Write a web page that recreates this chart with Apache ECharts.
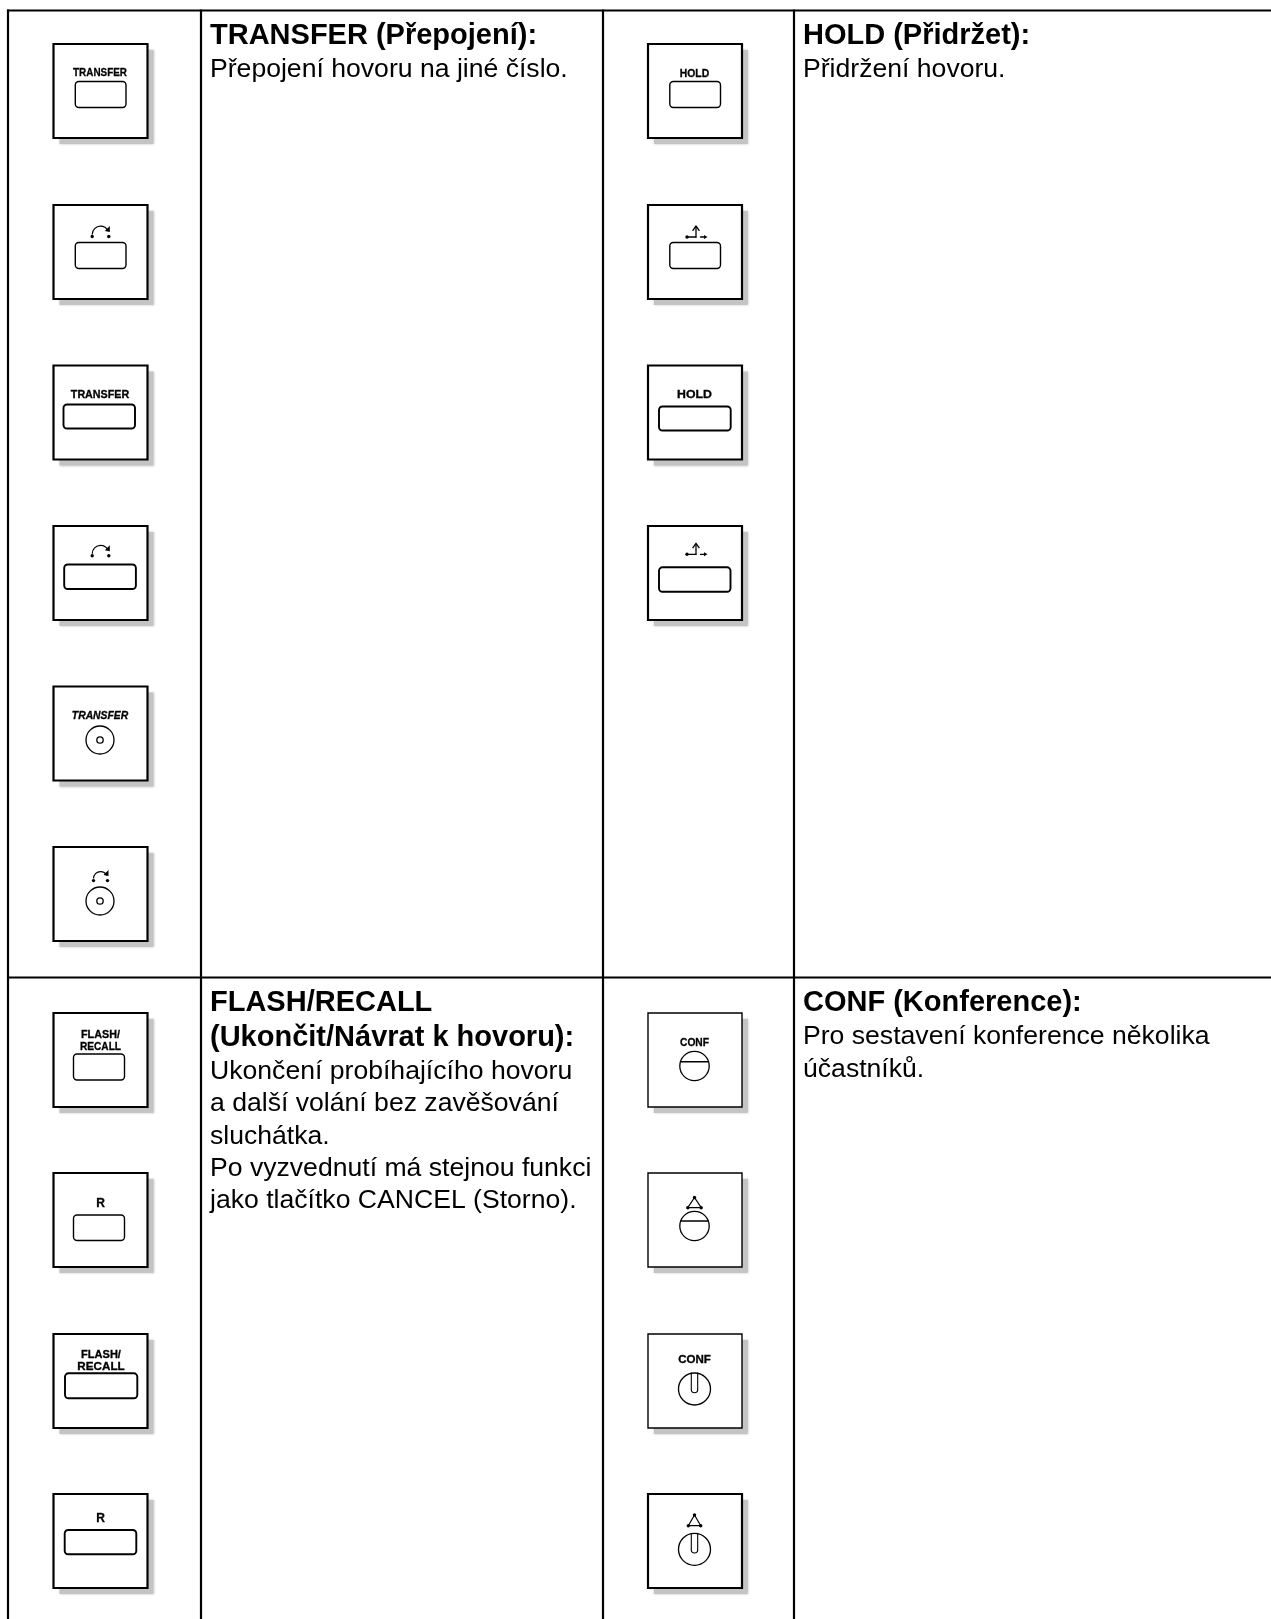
<!DOCTYPE html>
<html><head><meta charset="utf-8">
<style>html,body{margin:0;padding:0;background:#fff}#c{width:1271px;height:1619px}</style>
<script src="https://cdn.jsdelivr.net/npm/echarts@6/dist/echarts.min.js"></script>
</head><body><div id="c"></div>
<script>
// ---- content ----
const headingTransfer = ['TRANSFER (Přepojení):'];
const bodyTransfer = ['Přepojení hovoru na jiné číslo.'];
const headingHold = ['HOLD (Přidržet):'];
const bodyHold = ['Přidržení hovoru.'];
const headingFlash = ['FLASH/RECALL', '(Ukončit/Návrat k hovoru):'];
const bodyFlash = ['Ukončení probíhajícího hovoru', 'a další volání bez zavěšování', 'sluchátka.', 'Po vyzvednutí má stejnou funkci', 'jako tlačítko CANCEL (Storno).'];
const headingConf = ['CONF (Konference):'];
const bodyConf = ['Pro sestavení konference několika', 'účastníků.'];
const keysTransfer = ['narrow-label', 'narrow-arc', 'wide-label', 'wide-arc', 'round-label', 'round-arc'];
const keysHold = ['narrow-label', 'narrow-fork', 'wide-label', 'wide-fork'];
const keysFlash = ['flash-narrow', 'r-narrow', 'flash-wide', 'r-wide'];
const keysConf = ['chord-label', 'chord-tri', 'slot-label', 'slot-tri'];
// ---- layout ----
const FONT = '"Liberation Sans", Arial, sans-serif';
const colLines = [8, 201, 603, 794];
const rowLines = [10.5, 977.5];
const W = 1271, H = 1619;
const topsUpper = [44, 205, 365.5, 526, 686.5, 847];
const topsLower = [1013, 1173, 1334, 1494];
const g = [];
const line = (x1, y1, x2, y2, w) => g.push({type:'line', z:5, shape:{x1,y1,x2,y2}, style:{stroke:'#000', lineWidth:w||1.2, lineCap:'round', lineJoin:'round'}});
const poly = (pts, w) => g.push({type:'polyline', z:5, shape:{points:pts}, style:{stroke:'#000', fill:null, lineWidth:w||1.2, lineJoin:'round'}});
const dot = (cx, cy, r) => g.push({type:'circle', z:5, shape:{cx,cy,r:r||1.6}, style:{fill:'#000'}});
const tri = (pts) => g.push({type:'polygon', z:5, shape:{points:pts}, style:{fill:'#000'}});
const label = (txt, cx, cy, size, sx, italic) => g.push({type:'text', z:6, x:cx, y:cy, scaleX:sx||1,
  style:{text:txt, x:0, y:0, fill:'#000', stroke:'#000', lineWidth:0.3, align:'center', verticalAlign:'middle', font:`${italic?'italic ':''}bold ${size}px ${FONT}`}});
const key = (x, y, w, h, lw) => g.push({type:'rect', z:5, shape:{x,y,width:w,height:h,r:3.5}, style:{fill:'#fff', stroke:'#000', lineWidth:lw||1.4}});
const ring = (cx, cy, r, w) => g.push({type:'circle', z:5, shape:{cx,cy,r}, style:{fill:'#fff', stroke:'#000', lineWidth:w||1.3}});

function arcIcon(x, y, halfW, dotY, peakY) {
  const cx = x + 47, r = dotY - peakY - 2, cy = peakY + r;
  dot(cx - halfW, y + dotY, 1.7); dot(cx + halfW, y + dotY, 1.7);
  g.push({type:'arc', z:5, shape:{cx, cy:y+cy, r:halfW, startAngle:Math.PI, endAngle:Math.PI*1.85, clockwise:true},
    style:{stroke:'#000', fill:null, lineWidth:1.2}});
  tri([[cx+halfW+1, y+dotY-10.5],[cx+halfW+1, y+dotY-4.5],[cx+halfW-4, y+dotY-5.5]]);
}
function forkIcon(x, y) {
  dot(x+39, y+32, 1.7);
  line(x+39, y+32, x+48, y+32, 1.3);
  line(x+48, y+32, x+48, y+22, 1.3);
  poly([[x+44.6, y+25.8],[x+48, y+21],[x+51.4, y+25.8]], 1.3);
  line(x+52.5, y+32, x+57, y+32, 1.3);
  tri([[x+59.5,y+32],[x+56,y+30],[x+56,y+34]]);
}
function triIcon(x, y, ay, by, hw) {
  const cx = x + 46.5;
  poly([[cx,y+ay],[cx-hw,y+by],[cx+hw,y+by],[cx,y+ay]], 1.2);
  dot(cx,y+ay,1.7); dot(cx-hw,y+by,1.7); dot(cx+hw,y+by,1.7);
}
function chordCircle(x, y, cy, chord) {
  const cx = x + 46.5, r = 14.7;
  ring(cx, y+cy, r);
  const dy = chord - cy, hw = Math.sqrt(r*r - dy*dy);
  line(cx-hw, y+chord, cx+hw, y+chord, 1.4);
}
function slotCircle(x, y, cy) {
  const cx = x + 46.5, r = 16;
  ring(cx, y+cy, r);
  const t = y + cy - r, sw = 3.2, e = y + cy + 0.5;
  line(cx-sw, t, cx-sw, e, 1.1);
  line(cx+sw, t, cx+sw, e, 1.1);
  g.push({type:'arc', z:5, shape:{cx, cy:e, r:sw, startAngle:0, endAngle:Math.PI, clockwise:true}, style:{stroke:'#000', fill:null, lineWidth:1.1}});
}
function box(x, y, thin) {
  g.push({type:'rect', z:2, shape:{x:x+6,y:y+6,width:94,height:94}, style:{fill:'#c4c4c4', shadowBlur:2.5, shadowColor:'#c4c4c4'}});
  g.push({type:'rect', z:3, shape:{x,y,width:94,height:94}, style:{fill:'#fff', stroke:'#000', lineWidth:thin?1.4:2.2}});
}
const painters = {
  'narrow-label': (x,y,t)=>{ key(x+21.8,y+37.5,50.7,26); if(t==='T') label('TRANSFER',x+46.5,y+29,11.5,0.86); else label('HOLD',x+46.5,y+29.5,11,0.94); },
  'narrow-arc': (x,y)=>{ key(x+21.8,y+37.5,50.7,26); arcIcon(x,y,8.3,31.5,22); },
  'narrow-fork': (x,y)=>{ key(x+21.8,y+37.5,50.7,26); forkIcon(x,y); },
  'wide-label': (x,y,t)=>{ if(t==='T'){ key(x+10,y+39,71.5,24,1.9); label('TRANSFER',x+46.5,y+29.5,10.5,1.02); } else { key(x+11,y+41,71.7,24,1.9); label('HOLD',x+46.5,y+30,10.5,1.17); } },
  'wide-arc': (x,y)=>{ key(x+10.7,y+38.5,71.7,24.5,1.9); arcIcon(x,y,8.3,29.7,20); },
  'wide-fork': (x,y)=>{ key(x+11,y+41.3,71.5,24.5,1.9); forkIcon(x,y-3.7); },
  'round-label': (x,y)=>{ ring(x+46.5,y+53.5,14); ring(x+46.5,y+53.5,3.2); label('TRANSFER',x+46.5,y+29.5,11,0.94,true); },
  'round-arc': (x,y)=>{ ring(x+46.5,y+54,14); ring(x+46.5,y+54,3.2); arcIcon(x,y,7,33.6,26); },
  'flash-narrow': (x,y)=>{ key(x+20,y+41,51,26); label('FLASH/',x+47,y+21.5,11,0.98); label('RECALL',x+47,y+33.5,11,0.92); },
  'r-narrow': (x,y)=>{ key(x+20,y+42,51,25.5); label('R',x+47,y+31,12); },
  'flash-wide': (x,y)=>{ key(x+11.5,y+39.3,72.3,25,1.9); label('FLASH/',x+47.5,y+21,10.5,1.05); label('RECALL',x+47.5,y+32.7,10.5,1.11); },
  'r-wide': (x,y)=>{ key(x+11.2,y+36,71.6,24.3,1.9); label('R',x+47,y+24.5,12); },
  'chord-label': (x,y)=>{ chordCircle(x,y,53,48.7); label('CONF',x+46.5,y+30,11,0.93); },
  'chord-tri': (x,y)=>{ chordCircle(x,y,53,48); triIcon(x,y,24.5,34.7,6.7); },
  'slot-label': (x,y)=>{ slotCircle(x,y,55); label('CONF',x+46.5,y+26,10.5,1.1); },
  'slot-tri': (x,y)=>{ slotCircle(x,y,55.3); triIcon(x,y,21,31.7,6.2); }
};
function columnKeys(x, list, tops, tag, thinFn) {
  list.forEach((k, i) => { const y = tops[i]; box(x, y, thinFn && thinFn(i)); painters[k](x, y, tag); });
}
columnKeys(53.5, keysTransfer, topsUpper, 'T');
columnKeys(648, keysHold, topsUpper, 'H');
columnKeys(53.5, keysFlash, topsLower, 'F');
columnKeys(648, keysConf, topsLower, 'C', i => i < 3);

// grid
colLines.forEach(x => g.push({type:'line', z:8, shape:{x1:x,y1:rowLines[0]-1,x2:x,y2:H}, style:{stroke:'#000', lineWidth:2.2}}));
rowLines.forEach(y => g.push({type:'line', z:8, shape:{x1:colLines[0]-1,y1:y,x2:W,y2:y}, style:{stroke:'#000', lineWidth:2.2}}));

// text
const HEAD = 29, BODY = 26.6;
function block(x, headY, bodyY, head, body, step) {
  let yy = headY;
  head.forEach(t => { g.push({type:'text', z:9, style:{text:t, x, y:yy, fill:'#000', align:'left', verticalAlign:'middle', font:`bold ${HEAD}px ${FONT}`}}); yy += 35; });
  yy = bodyY;
  body.forEach(t => { g.push({type:'text', z:9, style:{text:t, x, y:yy, fill:'#000', align:'left', verticalAlign:'middle', font:`${BODY}px ${FONT}`}}); yy += step; });
}
block(210, 35.5, 69.3, headingTransfer, bodyTransfer, 32.5);
block(803, 35.5, 69.3, headingHold, bodyHold, 32.5);
block(210, 1003, 1071.5, headingFlash, bodyFlash, 32.4);
block(803, 1003, 1036.5, headingConf, bodyConf, 33);

const chart = echarts.init(document.getElementById('c'), null, {renderer:'canvas', width:W, height:H});
chart.setOption({animation:false, backgroundColor:'#fff', graphic:{elements:g}});
</script></body></html>
